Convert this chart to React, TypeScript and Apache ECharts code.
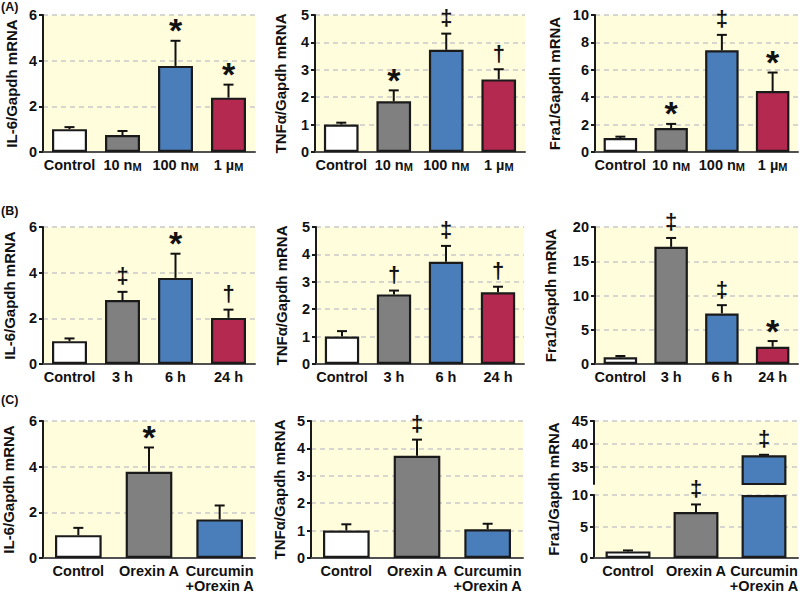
import React, { useEffect, useRef } from 'react';
import * as echarts from 'echarts';

// ---------- data ----------
const doseCategories = ['Control', '10 nM', '100 nM', '1 µM'];
const timeCategories = ['Control', '3 h', '6 h', '24 h'];
const curcuminCategories = ['Control', 'Orexin A', 'Curcumin\n+Orexin A'];

// (A) dose response
const doseIl6 = [1.0, 0.74, 3.77, 2.38];
const doseIl6Err = [0.09, 0.18, 1.1, 0.57];
const doseIl6Sig = ['', '', '*', '*'];
const doseTnf = [1.0, 1.85, 3.73, 2.65];
const doseTnfErr = [0.07, 0.4, 0.59, 0.37];
const doseTnfSig = ['', '*', '‡', '†'];
const doseFra1 = [1.02, 1.75, 7.42, 4.45];
const doseFra1Err = [0.1, 0.3, 1.13, 1.35];
const doseFra1Sig = ['', '*', '‡', '*'];

// (B) time course
const timeIl6 = [1.0, 2.8, 3.77, 2.02];
const timeIl6Err = [0.12, 0.36, 1.06, 0.36];
const timeIl6Sig = ['', '‡', '*', '†'];
const timeTnf = [1.0, 2.54, 3.73, 2.62];
const timeTnfErr = [0.2, 0.14, 0.58, 0.2];
const timeTnfSig = ['', '†', '‡', '†'];
const timeFra1 = [0.97, 17.1, 7.38, 2.52];
const timeFra1Err = [0.2, 1.3, 1.21, 0.83];
const timeFra1Sig = ['', '‡', '‡', '*'];

// (C) curcumin
const curIl6 = [1.0, 3.78, 1.69];
const curIl6Err = [0.32, 1.06, 0.61];
const curIl6Sig = ['', '*', ''];
const curTnf = [1.0, 3.73, 1.05];
const curTnfErr = [0.23, 0.59, 0.2];
const curTnfSig = ['', '‡', ''];
const curFra1 = [1.05, 7.3, 37.5];
const curFra1Err = [0.15, 1.2, 0.1];
const curFra1Sig = ['', '‡', '‡'];

// y-axis ranges [max, interval]
const il6Axis = [6, 2];
const tnfAxis = [5, 1];
const doseFra1Axis = [10, 2];
const timeFra1Axis = [20, 5];
const curFra1LowerAxis = [10, 5];
const curFra1UpperRange = [31.2, 45];

const il6Name = 'IL-6/Gapdh mRNA';
const tnfName = 'TNFα/Gapdh mRNA';
const fra1Name = 'Fra1/Gapdh mRNA';

// ---------- styles ----------
const FONT = '"Liberation Sans", Arial, Helvetica, sans-serif';
const BG = '#fffddc';
const INK = '#111111';
const BAR_COLORS = ['#ffffff', '#808080', '#4a7ebb', '#b4294f'];

type Box = { left: number; top: number; width: number; height: number; nameGap: number };

const boxes: Box[] = [
  { left: 43, top: 15, width: 212, height: 137, nameGap: 24 },
  { left: 315, top: 15, width: 210, height: 137, nameGap: 27 },
  { left: 595, top: 15, width: 203, height: 137, nameGap: 33 },
  { left: 43, top: 227, width: 212, height: 137, nameGap: 26 },
  { left: 316, top: 227, width: 208, height: 137, nameGap: 27.5 },
  { left: 595, top: 227, width: 203, height: 137, nameGap: 37.5 },
  { left: 43, top: 421, width: 212, height: 137, nameGap: 27 },
  { left: 311, top: 421, width: 212, height: 137, nameGap: 24 },
];
const c3Upper = { left: 594, top: 421, width: 204, height: 63 };
const c3Lower = { left: 594, top: 495, width: 204, height: 63 };

function smallCaps(v: string) {
  return v.replace(/([nµ])M$/, '$1{sc|M}');
}

const xLabel = {
  interval: 0,
  margin: 5,
  fontFamily: FONT,
  fontSize: 14.5,
  fontWeight: 'bold',
  color: INK,
  lineHeight: 15,
  formatter: smallCaps,
  rich: {
    sc: {
      fontFamily: FONT,
      fontSize: 11,
      fontWeight: 'bold',
      color: INK,
      lineHeight: 12.6,
      verticalAlign: 'bottom',
    },
  },
};

const yLabel = {
  margin: 6,
  fontFamily: FONT,
  fontSize: 14.5,
  fontWeight: 'bold',
  color: INK,
};

const yLine = { show: true, lineStyle: { color: '#1a1a1a', width: 2 } };
const yTick = { show: true, length: 4, lineStyle: { color: '#1a1a1a', width: 2 } };
const ySplit = { show: true, lineStyle: { type: [5, 4], color: '#c9c9c9', width: 1.5 } };

function makeErrRenderer(sig: string[]) {
  return (params: any, api: any) => {
    const j = api.value(0);
    const v = api.value(1);
    const e = api.value(2);
    const base = api.coord([j, v]);
    const tip = api.coord([j, v + e]);
    const half = 5;
    const children: any[] = [
      {
        type: 'line',
        shape: { x1: base[0], y1: base[1], x2: tip[0], y2: tip[1] },
        style: { stroke: INK, lineWidth: 2 },
      },
      {
        type: 'line',
        shape: { x1: tip[0] - half, y1: tip[1], x2: tip[0] + half, y2: tip[1] },
        style: { stroke: INK, lineWidth: 2 },
      },
    ];
    const s = sig[j];
    if (s) {
      const isStar = s === '*';
      children.push({
        type: 'text',
        x: tip[0],
        y: tip[1] - 17 + (isStar ? 6.5 : 1),
        style: {
          text: s,
          fill: INK,
          fontFamily: FONT,
          fontWeight: 'bold',
          fontSize: isStar ? 34 : 22,
          align: 'center',
          verticalAlign: 'middle',
        },
      });
    }
    return { type: 'group', children };
  };
}

type Panel = {
  cats: string[];
  values: number[];
  errs: number[];
  sig: string[];
  axis: number[];
  name: string;
};

const panels: Panel[] = [
  { cats: doseCategories, values: doseIl6, errs: doseIl6Err, sig: doseIl6Sig, axis: il6Axis, name: il6Name },
  { cats: doseCategories, values: doseTnf, errs: doseTnfErr, sig: doseTnfSig, axis: tnfAxis, name: tnfName },
  { cats: doseCategories, values: doseFra1, errs: doseFra1Err, sig: doseFra1Sig, axis: doseFra1Axis, name: fra1Name },
  { cats: timeCategories, values: timeIl6, errs: timeIl6Err, sig: timeIl6Sig, axis: il6Axis, name: il6Name },
  { cats: timeCategories, values: timeTnf, errs: timeTnfErr, sig: timeTnfSig, axis: tnfAxis, name: tnfName },
  { cats: timeCategories, values: timeFra1, errs: timeFra1Err, sig: timeFra1Sig, axis: timeFra1Axis, name: fra1Name },
  { cats: curcuminCategories, values: curIl6, errs: curIl6Err, sig: curIl6Sig, axis: il6Axis, name: il6Name },
  { cats: curcuminCategories, values: curTnf, errs: curTnfErr, sig: curTnfSig, axis: tnfAxis, name: tnfName },
];

function buildOption() {
  const grid: any[] = [];
  const xAxis: any[] = [];
  const yAxis: any[] = [];
  const series: any[] = [];

  panels.forEach((p, i) => {
    const b = boxes[i];
    grid.push({
      left: b.left, top: b.top, width: b.width, height: b.height,
      show: true, backgroundColor: BG, borderWidth: 0, outerBoundsMode: 'none',
    });
    xAxis.push({
      type: 'category', gridIndex: i, data: p.cats,
      axisLine: { show: true, lineStyle: { color: '#505050', width: 2 } },
      axisTick: { show: false },
      axisLabel: xLabel,
    });
    yAxis.push({
      type: 'value', gridIndex: i, min: 0, max: p.axis[0], interval: p.axis[1],
      name: p.name, nameLocation: 'middle', nameGap: b.nameGap,
      nameTextStyle: { fontFamily: FONT, fontSize: 15, fontWeight: 'bold', color: INK },
      axisLine: yLine, axisTick: yTick, axisLabel: yLabel, splitLine: ySplit,
    });
    series.push({
      type: 'bar', xAxisIndex: i, yAxisIndex: i, barWidth: '66%',
      data: p.values.map((v, j) => ({ value: v, itemStyle: { color: BAR_COLORS[j] } })),
      itemStyle: { borderColor: '#1a1a1a', borderWidth: 2.2 },
    });
    series.push({
      type: 'custom', xAxisIndex: i, yAxisIndex: i, z: 5,
      data: p.values.map((v, j) => [j, v, p.errs[j]]),
      encode: { x: 0, y: 1 },
      renderItem: makeErrRenderer(p.sig),
    });
  });

  // C3 broken axis: upper grid (index 8) and lower grid (index 9)
  const up = panels.length;
  const lo = panels.length + 1;
  const lowMax = curFra1LowerAxis[0];
  grid.push({ ...c3Upper, show: true, backgroundColor: BG, borderWidth: 0, outerBoundsMode: 'none' });
  grid.push({ ...c3Lower, show: true, backgroundColor: BG, borderWidth: 0, outerBoundsMode: 'none' });
  xAxis.push({ type: 'category', gridIndex: up, data: curcuminCategories, show: false });
  xAxis.push({
    type: 'category', gridIndex: lo, data: curcuminCategories,
    axisLine: { show: true, lineStyle: { color: '#505050', width: 2 } },
    axisTick: { show: false }, axisLabel: xLabel,
  });
  yAxis.push({
    type: 'value', gridIndex: up, min: curFra1UpperRange[0], max: curFra1UpperRange[1], splitNumber: 3,
    axisLine: yLine, axisTick: yTick,
    axisLabel: { ...yLabel, showMinLabel: false },
    splitLine: { ...ySplit, showMinLine: false },
  });
  yAxis.push({
    type: 'value', gridIndex: lo, min: 0, max: curFra1LowerAxis[0], interval: curFra1LowerAxis[1],
    axisLine: yLine, axisTick: yTick, axisLabel: yLabel, splitLine: ySplit,
  });
  series.push({
    type: 'bar', xAxisIndex: lo, yAxisIndex: lo, barWidth: '66%',
    data: curFra1.map((v, j) => ({ value: Math.min(v, lowMax), itemStyle: { color: BAR_COLORS[j] } })),
    itemStyle: { borderColor: '#1a1a1a', borderWidth: 2.2 },
  });
  series.push({
    type: 'bar', xAxisIndex: up, yAxisIndex: up, barWidth: '66%',
    data: curFra1.map((v, j) => (v > lowMax ? { value: v, itemStyle: { color: BAR_COLORS[j] } } : '-')),
    itemStyle: { borderColor: '#1a1a1a', borderWidth: 2.2 },
  });
  const lowItems: any[] = [];
  const upItems: any[] = [];
  curFra1.forEach((v, j) => {
    if (v > lowMax) upItems.push([j, v, curFra1Err[j]]);
    else lowItems.push([j, v, curFra1Err[j]]);
  });
  series.push({
    type: 'custom', xAxisIndex: lo, yAxisIndex: lo, z: 5, data: lowItems,
    encode: { x: 0, y: 1 }, renderItem: makeErrRenderer(curFra1Sig),
  });
  series.push({
    type: 'custom', xAxisIndex: up, yAxisIndex: up, z: 5, data: upItems,
    encode: { x: 0, y: 1 }, renderItem: makeErrRenderer(curFra1Sig),
  });

  const panelLabel = (text: string, y: number) => ({
    type: 'text', x: 1, y,
    style: { text, fill: INK, fontFamily: FONT, fontWeight: 'bold', fontSize: 12.5, align: 'left', verticalAlign: 'middle' },
  });

  const graphic = [
    panelLabel('(A)', 7),
    panelLabel('(B)', 211),
    panelLabel('(C)', 400),
    {
      type: 'rect', z: -1,
      shape: { x: c3Upper.left, y: c3Upper.top + c3Upper.height, width: c3Upper.width, height: c3Lower.top - (c3Upper.top + c3Upper.height) },
      style: { fill: BG },
    },
    {
      type: 'text', x: 553.5, y: 489, rotation: Math.PI / 2,
      style: { text: fra1Name, fill: INK, fontFamily: FONT, fontWeight: 'bold', fontSize: 15, align: 'center', verticalAlign: 'middle' },
    },
  ];

  return {
    animation: false,
    backgroundColor: '#ffffff',
    textStyle: { fontFamily: FONT },
    grid, xAxis, yAxis, series, graphic,
  };
}

export default function App() {
  const ref = useRef<HTMLDivElement>(null);
  useEffect(() => {
    const chart = echarts.init(ref.current!, null, { renderer: 'svg' });
    chart.setOption(buildOption() as any);
    return () => chart.dispose();
  }, []);
  return (
    <div
      ref={ref}
      style={{ position: 'fixed', left: 0, top: 0, width: 800, height: 595 }}
    />
  );
}
